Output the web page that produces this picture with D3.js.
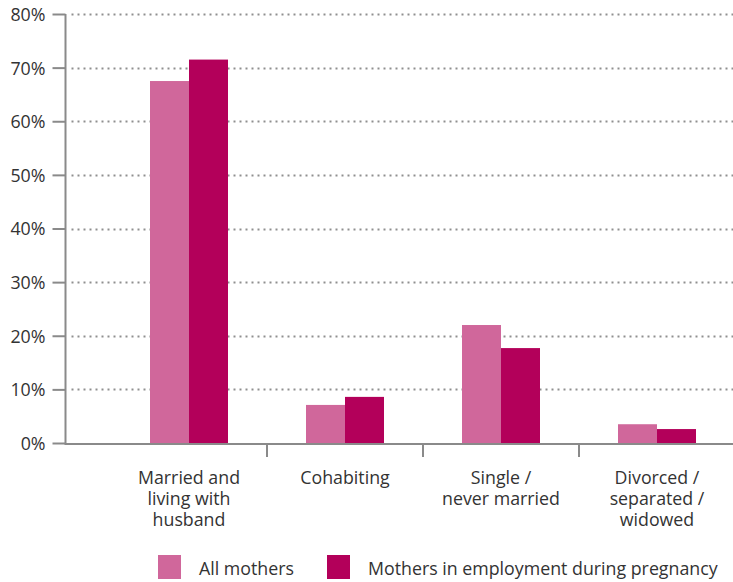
<!DOCTYPE html>
<html>
<head>
<meta charset="utf-8">
<script src="https://cdn.jsdelivr.net/npm/d3@7"></script>
<style>
  body { margin: 0; background: #fff; }
  svg text { font-family: "Open Sans", Lato, sans-serif; font-weight: 400; fill: #333; }
</style>
</head>
<body>
<svg id="chart" width="733" height="582"></svg>
<script>
// Marital status of mothers, percentages
const categories = [
  ["Married and", "living with", "husband"],
  ["Cohabiting"],
  ["Single /", "never married"],
  ["Divorced /", "separated /", "widowed"]
];
const seriesNames = ["All mothers", "Mothers in employment during pregnancy"];
const allMothers = [67.5, 7.1, 22.0, 3.5];
const employedMothers = [71.5, 8.6, 17.7, 2.6];
const yTicks = [0, 10, 20, 30, 40, 50, 60, 70, 80];
const colors = ["#d0679b", "#b3005a"];

const svg = d3.select("#chart");
const axisColor = "#8a8a8a";
const fontSize = 17.8;
const plotLeft = 65.5, plotRight = 733, plotTop = 14, plotBottom = 443;

const x = d3.scaleBand()
  .domain(d3.range(categories.length))
  .range([111, 735])
  .paddingInner(0)
  .paddingOuter(0);
const xSub = d3.scaleBand()
  .domain([0, 1])
  .range([0, x.bandwidth()])
  .paddingOuter(1);
const y = d3.scaleLinear().domain([0, 80]).range([plotBottom, plotTop]);

// Dotted gridlines
svg.append("g")
  .selectAll("line")
  .data(yTicks.filter(d => d > 0))
  .join("line")
  .attr("x1", plotLeft + 6).attr("x2", plotRight)
  .attr("y1", d => Math.round(y(d)) + 0.5).attr("y2", d => Math.round(y(d)) + 0.5)
  .attr("stroke", "#8f8f8f")
  .attr("stroke-width", 2)
  .attr("stroke-dasharray", "2,4");

// Bars
const groups = svg.append("g")
  .selectAll("g")
  .data(categories.map((c, i) => [allMothers[i], employedMothers[i]]))
  .join("g")
  .attr("transform", (d, i) => `translate(${x(i)},0)`);
groups.selectAll("rect")
  .data(d => d)
  .join("rect")
  .attr("x", (d, j) => xSub(j))
  .attr("width", xSub.bandwidth())
  .attr("y", d => y(d))
  .attr("height", d => y(0) - y(d))
  .attr("fill", (d, j) => colors[j]);

// Y axis
const yAxis = svg.append("g")
  .attr("transform", `translate(${plotLeft},0)`)
  .call(d3.axisLeft(y).tickValues(yTicks).tickFormat(d => d + "%").tickSize(13).tickPadding(7));
yAxis.select(".domain").attr("stroke", axisColor).attr("stroke-width", 2)
  .attr("d", `M0,${plotTop}V${plotBottom + 1}`);
yAxis.selectAll(".tick line").attr("stroke", axisColor).attr("stroke-width", 2);
yAxis.selectAll(".tick text").attr("font-size", fontSize).attr("fill", "#333").attr("dy", "0.36em");

// X axis with separator ticks between categories
const xAxis = svg.append("g").attr("transform", `translate(0,${plotBottom + 1})`);
xAxis.append("line")
  .attr("x1", plotLeft - 1).attr("x2", plotRight)
  .attr("stroke", axisColor).attr("stroke-width", 2);
xAxis.selectAll("line.sep")
  .data(d3.range(1, categories.length))
  .join("line")
  .attr("class", "sep")
  .attr("x1", i => x(i)).attr("x2", i => x(i))
  .attr("y1", 0).attr("y2", 13)
  .attr("stroke", axisColor).attr("stroke-width", 2);

// Category labels
const labels = svg.append("g")
  .selectAll("text")
  .data(categories)
  .join("text")
  .attr("x", (d, i) => x(i) + x.bandwidth() / 2)
  .attr("y", 484)
  .attr("text-anchor", "middle")
  .attr("font-size", fontSize);
labels.selectAll("tspan")
  .data(d => d)
  .join("tspan")
  .attr("x", function() { return this.parentNode.getAttribute("x"); })
  .attr("dy", (d, k) => k === 0 ? 0 : 21)
  .text(d => d);

// Legend
const legendX = [158, 327];
const legend = svg.append("g")
  .selectAll("g")
  .data(seriesNames)
  .join("g")
  .attr("transform", (d, i) => `translate(${legendX[i]},555)`);
legend.append("rect")
  .attr("width", 23).attr("height", 24)
  .attr("fill", (d, i) => colors[i]);
legend.append("text")
  .attr("x", 41).attr("y", 20)
  .attr("font-size", fontSize)
  .text(d => d);
</script>
</body>
</html>
